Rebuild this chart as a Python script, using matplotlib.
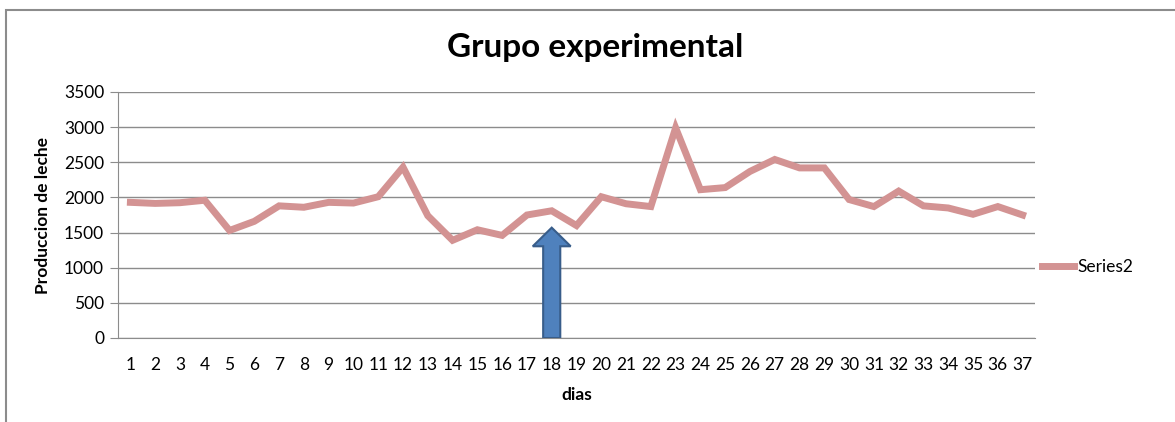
import numpy as np
from matplotlib import pyplot as plt
from matplotlib.patches import FancyArrow, Rectangle

# Data
DIAS = list(range(1, 38))
SERIES2 = [1930, 1915, 1925, 1960, 1530, 1660, 1880, 1860, 1930, 1920,
           2010, 2430, 1740, 1390, 1540, 1460, 1750, 1810, 1600, 2010,
           1910, 1870, 2990, 2110, 2140, 2370, 2540, 2420, 2420, 1970,
           1870, 2090, 1880, 1850, 1760, 1870, 1750]
Y_TICKS = [0, 500, 1000, 1500, 2000, 2500, 3000, 3500]
ARROW_DAY = 18
ARROW_TOP = 1570

plt.rcParams['font.family'] = ['Lato', 'DejaVu Sans']

W, H = 1175, 422
fig = plt.figure(figsize=(W / 100, H / 100), dpi=100)

# outer chart frame
fig.patches.append(Rectangle((6 / W, -0.1), 1.2, (H - 10) / H + 0.1, transform=fig.transFigure,
                             fill=False, edgecolor='#8c8c8c', linewidth=1.5))

ax = fig.add_axes([118 / W, (H - 338) / H, (1035 - 118) / W, (338 - 92) / H])

ax.plot(DIAS, SERIES2, color='#d39393', linewidth=5, solid_joinstyle='miter', label='Series2')

arrow = FancyArrow(ARROW_DAY, 0, 0, ARROW_TOP, width=0.69, head_width=1.53, head_length=265,
                   length_includes_head=True, facecolor='#4f81bd', edgecolor='#385d8a', linewidth=1.5, zorder=3)
ax.add_patch(arrow)

ax.set_xlim(0.5, 37.5)
ax.set_ylim(0, 3500)
ax.set_xticks(DIAS)
ax.set_xticklabels([str(d) for d in DIAS])
ax.set_yticks(Y_TICKS)
ax.grid(axis='y', color='#8c8c8c', linewidth=1)
ax.set_axisbelow(True)

for s in ['top', 'right']:
    ax.spines[s].set_visible(False)
ax.spines['left'].set_color('#8c8c8c')
ax.spines['bottom'].set_color('#8c8c8c')
ax.tick_params(axis='x', length=0, pad=14, labelsize=12.5)
ax.tick_params(axis='y', length=6, color='#8c8c8c', pad=4, labelsize=12.5)

ax.set_xlabel('dias', fontsize=12.5, fontweight='bold', labelpad=10)
ax.set_ylabel('Produccion de leche', fontsize=12.5, fontweight='bold', labelpad=9)
fig.text(595 / W, 1 - 47 / H, 'Grupo experimental', ha='center', va='center',
         fontsize=24, fontweight='bold')

ax.legend(loc='center left', bbox_to_anchor=(0.991, 0.29), frameon=False, fontsize=12.5,
          handlelength=1.8, handletextpad=0.2)

fig.savefig('out.png', dpi=100)
